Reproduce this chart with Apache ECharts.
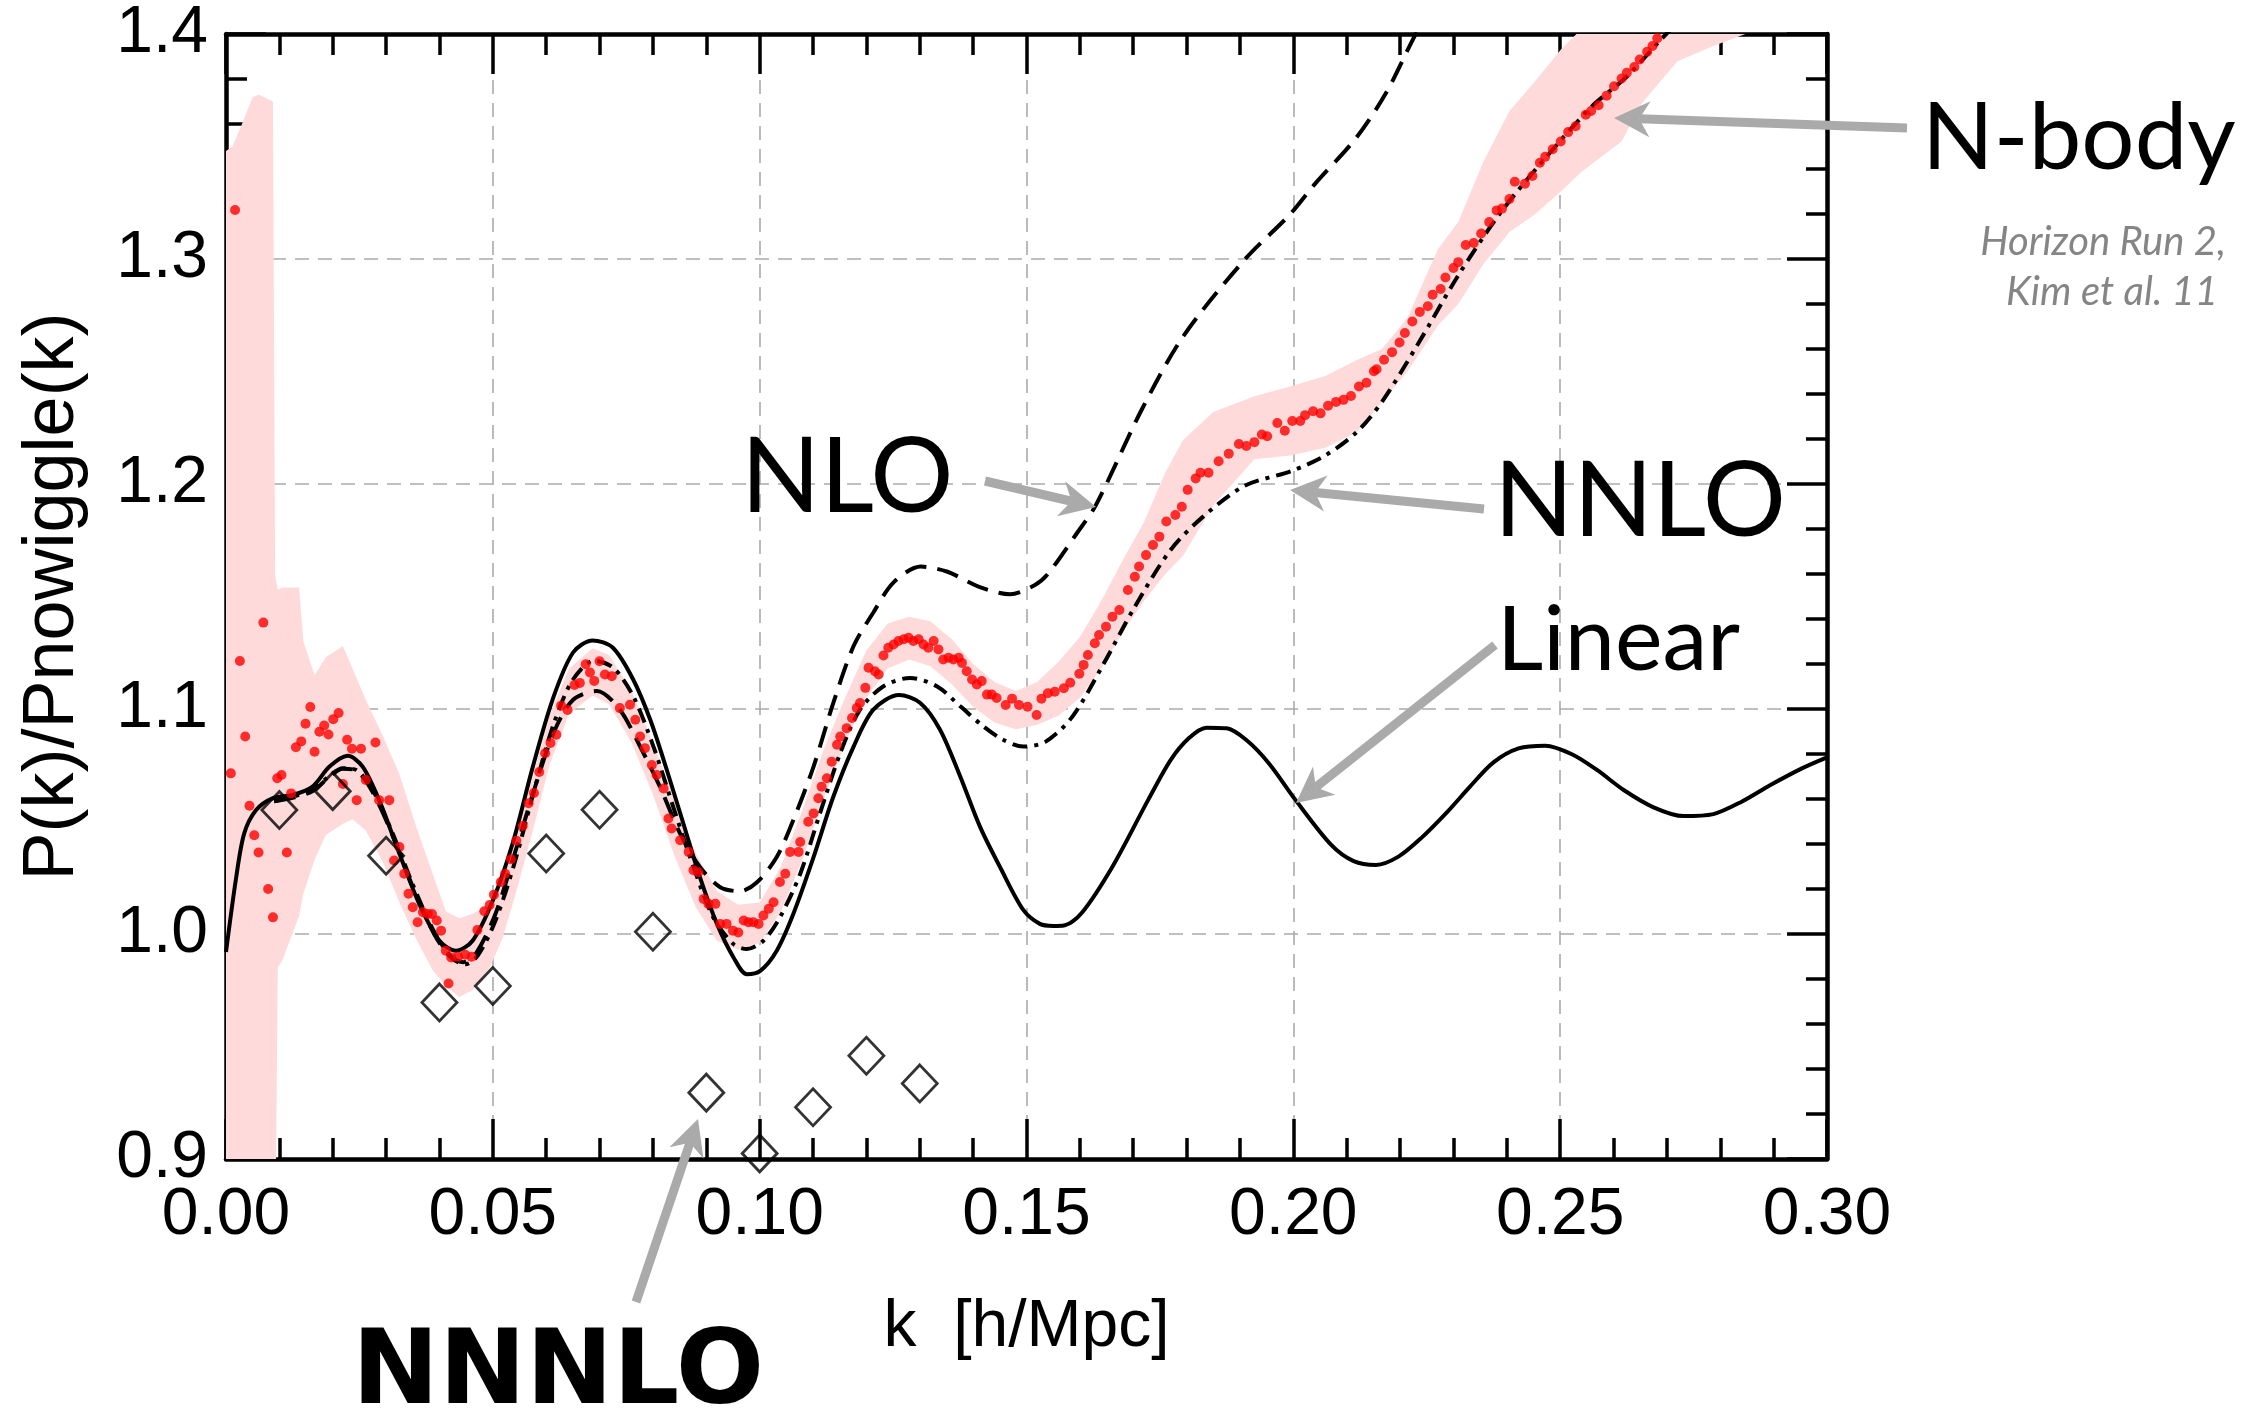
<!DOCTYPE html>
<html>
<head>
<meta charset="utf-8">
<script src="https://cdn.jsdelivr.net/npm/echarts@6/dist/echarts.min.js"></script>
<style>
html, body { margin: 0; padding: 0; background: #fff; }
#chart { width: 2263px; height: 1409px; }
</style>
</head>
<body>
<div id="chart"></div>
<script>
// ---- data: k [h/Mpc] vs P(k)/Pnowiggle(k) ----
var xTicks = [0, 0.30, 0.05];
var yTicks = [0.9, 1.4, 0.1];

// linear theory (solid)
var linear = [
  [0, 0.992], [0.0019, 1.025], [0.0034, 1.0446], [0.0056, 1.055], [0.0087, 1.0603], [0.0125, 1.0618],
  [0.0162, 1.0655], [0.0194, 1.0744], [0.0228, 1.0792], [0.0256, 1.0744], [0.0287, 1.0595], [0.0325, 1.0357],
  [0.0362, 1.0134], [0.04, 0.997], [0.0431, 0.9926], [0.0462, 0.997], [0.05, 1.0149], [0.0537, 1.0402],
  [0.0575, 1.0744], [0.0612, 1.1042], [0.065, 1.125], [0.0687, 1.1305], [0.0725, 1.1272], [0.0763, 1.1131],
  [0.0795, 1.0952], [0.0826, 1.0729], [0.0857, 1.0491], [0.0888, 1.0253], [0.092, 1.0045], [0.0951, 0.9896],
  [0.0976, 0.9821], [0.1001, 0.9836], [0.1032, 0.9926], [0.1063, 1.0089], [0.1101, 1.0342], [0.1138, 1.061],
  [0.1176, 1.0833], [0.1213, 1.0997], [0.1261, 1.1062], [0.1301, 1.1027], [0.1338, 1.0908], [0.1376, 1.0699],
  [0.1413, 1.0476], [0.1452, 1.029], [0.1494, 1.0107], [0.1525, 1.0045], [0.155, 1.0036], [0.157, 1.0038],
  [0.1603, 1.0092], [0.1661, 1.0299], [0.1728, 1.0596], [0.177, 1.0773], [0.1804, 1.087], [0.1837, 1.0917],
  [0.1875, 1.0914], [0.1912, 1.0862], [0.1954, 1.0759], [0.2004, 1.0596], [0.2071, 1.0396], [0.2113, 1.0324],
  [0.2155, 1.0307], [0.2197, 1.0344], [0.2239, 1.0425], [0.2289, 1.0544], [0.2331, 1.0655], [0.2375, 1.0763],
  [0.2422, 1.0825], [0.2472, 1.0837], [0.2522, 1.0799], [0.2569, 1.0729], [0.2619, 1.064], [0.2675, 1.0563],
  [0.2731, 1.0524], [0.2787, 1.0533], [0.284, 1.0588], [0.2894, 1.0662], [0.2953, 1.0736], [0.3, 1.0785]
];

// NLO (dashed)
var nlo = [
  [0.009, 1.059], [0.0125, 1.0605], [0.0162, 1.0635], [0.019, 1.069], [0.0219, 1.0735], [0.0245, 1.0725],
  [0.0275, 1.063], [0.031, 1.045], [0.035, 1.021], [0.039, 1.0], [0.042, 0.99], [0.0445, 0.9875],
  [0.047, 0.992], [0.0505, 1.009], [0.054, 1.035], [0.058, 1.066], [0.0615, 1.09], [0.065, 1.104],
  [0.0695, 1.108], [0.0738, 1.0997], [0.0776, 1.0833], [0.0813, 1.0655], [0.0851, 1.0446], [0.0888, 1.0298],
  [0.0926, 1.0208], [0.0963, 1.019], [0.0995, 1.023], [0.1032, 1.0342], [0.1063, 1.0506], [0.1101, 1.0744],
  [0.1138, 1.1027], [0.1176, 1.128], [0.1213, 1.1429], [0.1251, 1.1563], [0.1302, 1.1633], [0.1352, 1.161],
  [0.141, 1.1544], [0.1469, 1.151], [0.1515, 1.155], [0.154, 1.16], [0.1594, 1.178], [0.163, 1.1906],
  [0.1716, 1.2331], [0.1793, 1.2654], [0.1908, 1.2995], [0.1994, 1.3199], [0.2041, 1.3335], [0.2118, 1.3539],
  [0.2175, 1.3743], [0.2233, 1.4015], [0.226, 1.41]
];

// NNLO (dash-dot)
var nnlo = [
  [0.009, 1.059], [0.0125, 1.061], [0.0162, 1.064], [0.019, 1.0695], [0.0219, 1.0737], [0.0245, 1.0728],
  [0.0275, 1.064], [0.031, 1.046], [0.035, 1.022], [0.039, 1.001], [0.0425, 0.989], [0.0448, 0.9865],
  [0.0472, 0.9905], [0.0505, 1.006], [0.054, 1.031], [0.058, 1.066], [0.0615, 1.094], [0.065, 1.113],
  [0.069, 1.1215], [0.0726, 1.1183], [0.0763, 1.1057], [0.0801, 1.0833], [0.0838, 1.0565], [0.0876, 1.0298],
  [0.0913, 1.0074], [0.0951, 0.9955], [0.0976, 0.9933], [0.1007, 0.997], [0.1038, 1.0074], [0.1076, 1.0268],
  [0.1113, 1.0536], [0.1151, 1.0804], [0.1188, 1.0997], [0.1232, 1.1101], [0.1282, 1.1138], [0.1332, 1.1101],
  [0.1376, 1.1012], [0.1419, 1.0923], [0.1455, 1.0865], [0.1494, 1.0833], [0.1536, 1.0855], [0.1586, 1.0966],
  [0.1645, 1.1203], [0.1703, 1.1455], [0.177, 1.1707], [0.1831, 1.1855], [0.1908, 1.1991], [0.1998, 1.2059],
  [0.206, 1.2127], [0.2118, 1.2229], [0.2166, 1.2365], [0.2233, 1.262], [0.2309, 1.2927], [0.2386, 1.3199],
  [0.2462, 1.342], [0.2558, 1.3675], [0.2625, 1.3811], [0.2691, 1.3981], [0.272, 1.405]
];

// NNNLO (open diamonds)
var nnnlo = [
  [0.01, 1.0551], [0.02, 1.0635], [0.03, 1.0348], [0.04, 0.9696], [0.05, 0.9769], [0.06, 1.0358],
  [0.07, 1.0552], [0.08, 1.0010], [0.09, 0.9295], [0.10, 0.9025], [0.11, 0.9230], [0.12, 0.9459], [0.13, 0.9336]
];

// N-body (Horizon Run 2) points
var nbody = [
  [0.0009, 1.0714], [0.0017, 1.3218], [0.0026, 1.1213], [0.0036, 1.0878], [0.0044, 1.057], [0.0053, 1.0439],
  [0.0061, 1.0362], [0.007, 1.1384], [0.0079, 1.02], [0.0088, 1.0074], [0.0096, 1.0692], [0.0104, 1.0707],
  [0.0114, 1.0362], [0.0122, 1.0625], [0.0131, 1.083], [0.0141, 1.0856], [0.0149, 1.0935], [0.0158, 1.1009],
  [0.0166, 1.081], [0.0175, 1.0899], [0.0184, 1.0927], [0.0192, 1.0887], [0.0201, 1.0955], [0.0211, 1.0982],
  [0.0219, 1.0667], [0.0227, 1.0863], [0.0236, 1.0823], [0.0245, 1.0595], [0.0253, 1.0823], [0.0262, 1.0685],
  [0.028, 1.0851], [0.0287, 1.0595], [0.0306, 1.0595], [0.0315, 1.0327], [0.0325, 1.0387], [0.0334, 1.0268],
  [0.0342, 1.0179], [0.035, 1.0119], [0.0359, 1.0052], [0.0369, 1.0097], [0.0378, 1.0089], [0.0386, 1.0089],
  [0.0395, 1.006], [0.0403, 1.0015], [0.0412, 0.9926], [0.0417, 0.978], [0.0422, 0.9896], [0.0435, 0.9899],
  [0.0448, 0.9908], [0.046, 0.9899], [0.0471, 1.0018], [0.0484, 1.0101], [0.0494, 1.0129], [0.0502, 1.0175],
  [0.0515, 1.0231], [0.0523, 1.0268], [0.0534, 1.0332], [0.0544, 1.0415], [0.0556, 1.048], [0.0567, 1.0581],
  [0.0577, 1.0627], [0.0587, 1.072], [0.0598, 1.0803], [0.0608, 1.0849], [0.0619, 1.0886], [0.0628, 1.1015],
  [0.064, 1.0996], [0.0653, 1.1107], [0.0663, 1.1116], [0.0674, 1.1199], [0.0682, 1.1162], [0.069, 1.1125],
  [0.07, 1.1212], [0.071, 1.1153], [0.0723, 1.1146], [0.0738, 1.1004], [0.0757, 1.1019], [0.0767, 1.0952],
  [0.0776, 1.0878], [0.0785, 1.0826], [0.0798, 1.0751], [0.0807, 1.0707], [0.082, 1.0647], [0.0829, 1.0513],
  [0.0835, 1.0469], [0.0851, 1.0417], [0.0867, 1.0365], [0.0876, 1.0283], [0.0885, 1.0275], [0.0895, 1.0156],
  [0.0904, 1.0134], [0.0917, 1.0134], [0.0926, 1.0045], [0.0938, 1.0045], [0.095, 1.0015], [0.096, 1.0007],
  [0.097, 1.006], [0.0979, 1.0052], [0.0988, 1.0052], [0.0998, 1.0045], [0.1007, 1.0082], [0.1017, 1.0112],
  [0.1026, 1.0141], [0.1038, 1.0231], [0.1048, 1.0268], [0.1057, 1.0365], [0.1073, 1.0365], [0.1076, 1.0409],
  [0.1091, 1.0499], [0.1101, 1.0536], [0.111, 1.0603], [0.1116, 1.0655], [0.1126, 1.0692], [0.1135, 1.0766],
  [0.1145, 1.0841], [0.1151, 1.0878], [0.1163, 1.0915], [0.1173, 1.096], [0.1182, 1.1004], [0.1188, 1.1027],
  [0.1198, 1.1094], [0.1204, 1.1183], [0.1216, 1.1168], [0.1223, 1.1153], [0.1232, 1.1238], [0.1241, 1.1272],
  [0.1251, 1.1287], [0.126, 1.1302], [0.127, 1.131], [0.1279, 1.1317], [0.1288, 1.1302], [0.1298, 1.131],
  [0.1307, 1.1287], [0.1316, 1.1272], [0.1326, 1.1302], [0.1335, 1.1265], [0.1344, 1.122], [0.1354, 1.1228],
  [0.1363, 1.122], [0.1373, 1.1228], [0.1379, 1.1205], [0.1388, 1.1168], [0.1398, 1.1131], [0.1407, 1.1109],
  [0.1416, 1.1124], [0.1426, 1.1064], [0.1435, 1.1064], [0.1444, 1.1049], [0.1461, 1.1018], [0.1473, 1.1046],
  [0.1486, 1.1018], [0.1502, 1.101], [0.1519, 1.0973], [0.1528, 1.1046], [0.154, 1.107], [0.1553, 1.1077],
  [0.157, 1.1092], [0.1582, 1.1117], [0.1599, 1.1157], [0.1607, 1.1196], [0.1615, 1.124], [0.1628, 1.1292],
  [0.1636, 1.1329], [0.1649, 1.1366], [0.1661, 1.141], [0.1674, 1.144], [0.169, 1.1529], [0.1703, 1.1588],
  [0.1711, 1.1633], [0.1724, 1.1684], [0.1737, 1.1729], [0.1749, 1.1766], [0.1762, 1.1833], [0.1779, 1.1862],
  [0.1791, 1.1899], [0.1802, 1.1974], [0.1817, 1.2025], [0.1826, 1.205], [0.1841, 1.205], [0.186, 1.2101],
  [0.1879, 1.2135], [0.1898, 1.2178], [0.1912, 1.2169], [0.1927, 1.2186], [0.1941, 1.222], [0.1951, 1.2212],
  [0.197, 1.2271], [0.1984, 1.2237], [0.1998, 1.228], [0.2013, 1.228], [0.2022, 1.2306], [0.2037, 1.2323],
  [0.2051, 1.2314], [0.2065, 1.2348], [0.208, 1.2365], [0.2094, 1.2374], [0.2108, 1.2391], [0.2123, 1.2433],
  [0.2137, 1.245], [0.2151, 1.2501], [0.2156, 1.251], [0.217, 1.2552], [0.2185, 1.2586], [0.2199, 1.2629],
  [0.2209, 1.2671], [0.2223, 1.2722], [0.2237, 1.2765], [0.2252, 1.279], [0.2261, 1.2841], [0.2276, 1.2867],
  [0.2285, 1.2918], [0.23, 1.296], [0.2309, 1.2986], [0.2323, 1.3062], [0.2338, 1.3071], [0.2352, 1.3113],
  [0.2367, 1.3164], [0.2381, 1.3216], [0.2391, 1.3224], [0.2405, 1.3267], [0.2415, 1.3343], [0.2434, 1.3335],
  [0.2448, 1.3369], [0.2462, 1.3428], [0.2472, 1.3454], [0.2486, 1.3488], [0.2501, 1.3522], [0.2515, 1.3564],
  [0.2529, 1.359], [0.2548, 1.3641], [0.2558, 1.3658], [0.2572, 1.3683], [0.2587, 1.3726], [0.2601, 1.3768],
  [0.2615, 1.3802], [0.2625, 1.3828], [0.2639, 1.3853], [0.2649, 1.3887], [0.2663, 1.3921], [0.2673, 1.3947],
  [0.2682, 1.3981]
];

// N-body error band
var bandK = [
  0, 0.0012, 0.003, 0.005, 0.0062, 0.0088, 0.0092, 0.0097, 0.0105, 0.0137, 0.0145, 0.0166, 0.0187, 0.0219,
  0.0237, 0.0262, 0.0294, 0.0325, 0.0356, 0.0387, 0.0412, 0.0437, 0.0462, 0.0494, 0.0518, 0.0543, 0.0575,
  0.0606, 0.0643, 0.0687, 0.0718, 0.076, 0.08, 0.084, 0.088, 0.092, 0.096, 0.1, 0.104, 0.108, 0.112, 0.116,
  0.12, 0.124, 0.128, 0.132, 0.136, 0.14, 0.144, 0.148, 0.152, 0.156, 0.16, 0.164, 0.168, 0.172, 0.176,
  0.1793, 0.185, 0.1927, 0.1994, 0.206, 0.2118, 0.2166, 0.2214, 0.2271, 0.2309, 0.2357, 0.2405, 0.2453,
  0.2501, 0.2539, 0.2615, 0.2653, 0.272, 0.2787, 0.2864
];
var bandLo = [
  0.85, 0.85, 0.85, 0.85, 0.85, 0.85, 0.85, 0.985, 0.988, 1.008, 1.018, 1.033, 1.044, 1.049,
  1.051, 1.046, 1.032, 1.014, 0.998, 0.984, 0.977, 0.972, 0.975, 0.985, 0.998, 1.018, 1.046,
  1.075, 1.098, 1.106, 1.102, 1.085, 1.062, 1.035, 1.012, 0.997, 0.993, 0.996, 1.010, 1.033, 1.060, 1.085,
  1.105, 1.118, 1.122, 1.119, 1.111, 1.101, 1.094, 1.091, 1.093, 1.097, 1.105, 1.118, 1.134, 1.148, 1.160,
  1.168, 1.1906, 1.211, 1.2127, 1.2161, 1.2229, 1.2365, 1.2501, 1.2705, 1.280, 1.298, 1.312, 1.3199,
  1.330, 1.3386, 1.3522, 1.3692, 1.3879, 1.3947, 1.4015
];
var bandHi = [
  1.348, 1.350, 1.360, 1.372, 1.373, 1.370, 1.160, 1.153, 1.154, 1.154, 1.130, 1.115, 1.123, 1.128,
  1.118, 1.104, 1.088, 1.071, 1.048, 1.027, 1.010, 1.007, 1.009, 1.013, 1.024, 1.045, 1.070,
  1.097, 1.118, 1.127, 1.124, 1.108, 1.085, 1.060, 1.036, 1.019, 1.013, 1.014, 1.030, 1.055, 1.082, 1.105,
  1.126, 1.138, 1.141, 1.139, 1.131, 1.120, 1.112, 1.108, 1.112, 1.121, 1.132, 1.148, 1.166, 1.183, 1.205,
  1.2195, 1.232, 1.239, 1.2433, 1.248, 1.255, 1.260, 1.2739, 1.3045, 1.3164, 1.3437, 1.3658, 1.379,
  1.393, 1.402, 1.41, 1.41, 1.41, 1.41, 1.41
];

// annotation text and arrows (page pixels)
var labels = [
  { text: 'NLO', x: 741, y: 478, font: '104px Lato', align: 'left', color: '#000' },
  { text: 'NNLO', x: 1494, y: 502, font: '104px Lato', align: 'left', color: '#000' },
  { text: 'Linear', x: 1497, y: 641, font: '90px Lato', align: 'left', color: '#000' },
  { text: 'N-body', x: 1922, y: 139, font: '94px Lato', align: 'left', color: '#000' },
  { text: 'Horizon Run 2,', x: 2226, y: 242, font: 'italic 40px Lato', align: 'right', color: '#858585' },
  { text: 'Kim et al. 11', x: 2218, y: 292, font: 'italic 40px Lato', align: 'right', color: '#858585' },
  { text: 'NNNLO', x: 352, y: 1376, font: 'bold 104px "DejaVu Sans"', align: 'left', color: '#000' }
];
var arrows = [
  [985, 481, 1096, 507],
  [1484, 509, 1290, 490],
  [1907, 128, 1614, 118],
  [1495, 645, 1296, 803],
  [636, 1302, 698, 1119]
];

function arrowGraphics() {
  var out = [];
  arrows.forEach(function (a) {
    var dx = a[2] - a[0], dy = a[3] - a[1];
    var len = Math.sqrt(dx * dx + dy * dy);
    var ux = dx / len, uy = dy / len, nx = -uy, ny = ux;
    var L = 36, W = 18;
    var bx = a[2] - ux * L, by = a[3] - uy * L;
    var mx = a[2] - ux * L * 0.7, my = a[3] - uy * L * 0.7;
    out.push({
      type: 'line', silent: true, z: 100,
      shape: { x1: a[0], y1: a[1], x2: mx, y2: my },
      style: { stroke: '#aaaaaa', lineWidth: 9 }
    });
    out.push({
      type: 'polygon', silent: true, z: 100,
      shape: { points: [[a[2], a[3]], [bx + nx * W, by + ny * W], [mx, my], [bx - nx * W, by - ny * W]] },
      style: { fill: '#aaaaaa' }
    });
  });
  labels.forEach(function (t) {
    out.push({
      type: 'text', silent: true, z: 100, x: t.x, y: t.y,
      style: { text: t.text, font: t.font, fill: t.color, align: t.align, verticalAlign: 'middle' }
    });
  });
  return out;
}

var chart = echarts.init(document.getElementById('chart'));

var labelFont = { color: '#000', fontSize: 66, fontFamily: '"Liberation Sans", Arial, sans-serif' };
var gridDash = { color: '#aaaaaa', width: 1.6, type: [14, 9] };

function xAxisOf(pos, main) {
  return {
    type: 'value', position: pos, min: xTicks[0], max: xTicks[1], interval: xTicks[2],
    axisLine: { onZero: false, lineStyle: { color: '#000', width: 4.5 } },
    axisTick: { inside: true, length: 40, lineStyle: { color: '#000', width: 3.5 } },
    minorTick: { show: true, splitNumber: 5, length: 21, lineStyle: { color: '#000', width: 3.5 } },
    splitLine: { show: main, lineStyle: gridDash },
    axisLabel: Object.assign({ show: main, margin: 24, formatter: function (v) { return v.toFixed(2); } }, labelFont),
    name: main ? 'k  [h/Mpc]' : '',
    nameLocation: 'middle', nameGap: 136,
    nameTextStyle: { color: '#000', fontSize: 66, fontFamily: '"Liberation Sans", Arial, sans-serif' }
  };
}
function yAxisOf(pos, main) {
  return {
    type: 'value', position: pos, min: yTicks[0], max: yTicks[1], interval: yTicks[2],
    axisLine: { onZero: false, lineStyle: { color: '#000', width: 4.5 } },
    axisTick: { inside: true, length: 40, lineStyle: { color: '#000', width: 3.5 } },
    minorTick: { show: true, splitNumber: 5, length: 21, lineStyle: { color: '#000', width: 3.5 } },
    splitLine: { show: main, lineStyle: gridDash },
    axisLabel: Object.assign({ show: main, margin: 18, formatter: function (v) { return v.toFixed(1); } }, labelFont),
    name: main ? 'P(k)/Pnowiggle(k)' : '',
    nameLocation: 'middle', nameGap: 137,
    nameTextStyle: { color: '#000', fontSize: 72, fontFamily: '"Liberation Sans", Arial, sans-serif' }
  };
}

var option = {
  animation: false,
  backgroundColor: '#fff',
  grid: { left: 226, right: 436, top: 34, bottom: 250 },
  xAxis: [xAxisOf('bottom', true), xAxisOf('top', false)],
  yAxis: [yAxisOf('left', true), yAxisOf('right', false)],
  series: [
    {
      name: 'band', type: 'custom', clip: true, silent: true, z: 1,
      data: [[0.15, 1.1]],
      renderItem: function (params, api) {
        var pts = [];
        for (var i = 0; i < bandK.length; i++) pts.push(api.coord([bandK[i], bandHi[i]]));
        for (var j = bandK.length - 1; j >= 0; j--) pts.push(api.coord([bandK[j], bandLo[j]]));
        return { type: 'polygon', shape: { points: pts }, style: { fill: '#ffdada' } };
      }
    },
    {
      name: 'Linear', type: 'line', data: linear, symbol: 'none', smooth: 0.3, z: 3,
      lineStyle: { color: '#000', width: 4 }
    },
    {
      name: 'NLO', type: 'line', data: nlo, symbol: 'none', smooth: 0.3, z: 3,
      lineStyle: { color: '#000', width: 4, type: [22, 11] }
    },
    {
      name: 'NNLO', type: 'line', data: nnlo, symbol: 'none', smooth: 0.3, z: 3,
      lineStyle: { color: '#000', width: 4, type: [15, 7, 4, 7] }
    },
    {
      name: 'N-body', type: 'scatter', data: nbody, symbol: 'circle', symbolSize: 10, z: 4,
      itemStyle: { color: '#ff0000' }
    },
    {
      name: 'NNNLO', type: 'scatter', data: nnnlo, symbol: 'diamond', symbolSize: [35, 37], z: 5,
      itemStyle: { color: 'rgba(0,0,0,0)', borderColor: '#000', borderWidth: 2.8 }
    }
  ],
  graphic: arrowGraphics()
};

chart.setOption(option);
</script>
</body>
</html>
